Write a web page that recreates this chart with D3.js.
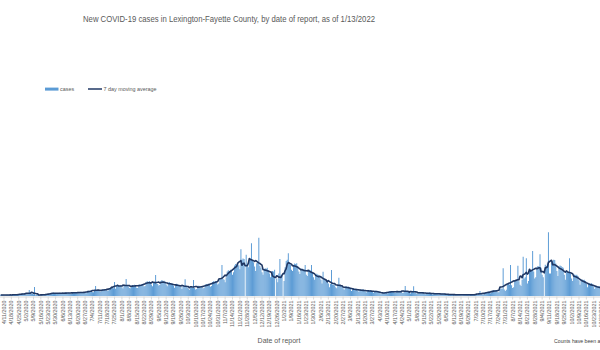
<!DOCTYPE html>
<html>
<head>
<meta charset="utf-8">
<script src="https://cdn.jsdelivr.net/npm/d3@7"></script>
<style>
  html, body { margin: 0; padding: 0; background: #fff; }
  svg { display: block; }
</style>
</head>
<body>
<svg id="chart" width="600" height="350"></svg>
<script>
// Daily new cases by date of report, one row per week (Sunday .. Saturday),
// starting Sunday 4/5/2020.
const firstDay = new Date(2020, 3, 5);
const cases = [
  6, 9, 7, 11, 8, 10, 6,
  5, 8, 10, 7, 9, 8, 9,
  7, 11, 9, 12, 10, 13, 8,
  10, 14, 18, 22, 16, 19, 13,
  12, 20, 48, 18, 22, 19, 14,
  72, 6, 9, 8, 11, 7, 5,
  6, 10, 14, 12, 15, 11, 9,
  14, 20, 25, 22, 27, 24, 18,
  15, 24, 22, 26, 21, 25, 17,
  16, 26, 28, 24, 27, 25, 20,
  18, 27, 30, 28, 25, 31, 22,
  20, 30, 33, 29, 31, 27, 24,
  22, 38, 42, 40, 37, 44, 31,
  30, 46, 80, 44, 41, 48, 36,
  34, 50, 55, 52, 49, 56, 41,
  44, 60, 68, 66, 70, 62, 112,
  58, 84, 90, 86, 82, 88, 70,
  60, 88, 84, 136, 80, 78, 64,
  62, 82, 88, 85, 90, 84, 66,
  64, 90, 92, 88, 96, 94, 76,
  80, 112, 118, 110, 120, 108, 92,
  78, 110, 114, 168, 100, 96, 84,
  88, 120, 128, 118, 122, 110, 92,
  78, 106, 112, 104, 100, 98, 84,
  66, 92, 98, 94, 90, 86, 72,
  56, 78, 82, 134, 72, 68, 60,
  50, 70, 74, 68, 128, 64, 52,
  56, 78, 82, 76, 80, 74, 60,
  64, 90, 96, 92, 98, 94, 74,
  80, 112, 118, 114, 120, 116, 92,
  100, 132, 140, 248, 136, 130, 110,
  150, 196, 206, 200, 210, 198, 170,
  190, 244, 256, 250, 262, 246, 214,
  374, 290, 300, 296, 0, 330, 250,
  230, 290, 300, 422, 280, 270, 236,
  200, 262, 270, 466, 240, 226, 190,
  170, 214, 222, 218, 226, 208, 180,
  150, 190, 200, 196, 210, 0, 140,
  110, 180, 296, 170, 160, 0, 120,
  230, 280, 290, 342, 270, 250, 210,
  200, 250, 260, 256, 262, 240, 196,
  176, 212, 220, 214, 210, 248, 170,
  160, 200, 210, 204, 248, 190, 150,
  130, 170, 178, 172, 166, 160, 130,
  100, 194, 140, 134, 130, 124, 100,
  70, 96, 208, 92, 90, 86, 70,
  62, 84, 146, 82, 80, 78, 62,
  50, 74, 78, 72, 76, 70, 56,
  40, 58, 62, 56, 60, 54, 44,
  34, 48, 52, 50, 54, 46, 38,
  28, 42, 46, 44, 48, 40, 32,
  26, 38, 42, 40, 38, 36, 28,
  14, 26, 28, 24, 30, 26, 20,
  24, 36, 40, 38, 36, 34, 28,
  26, 38, 40, 36, 42, 34, 26,
  24, 38, 80, 34, 36, 32, 24,
  20, 30, 34, 78, 28, 26, 20,
  18, 28, 30, 28, 32, 26, 20,
  14, 24, 26, 22, 28, 24, 16,
  12, 20, 22, 18, 24, 18, 14,
  10, 18, 20, 16, 20, 16, 12,
  8, 14, 14, 12, 16, 12, 8,
  6, 12, 12, 10, 14, 10, 7,
  6, 11, 13, 10, 12, 11, 7,
  7, 12, 12, 11, 13, 10, 8,
  8, 16, 18, 40, 16, 14, 10,
  16, 30, 32, 28, 34, 30, 22,
  28, 42, 46, 44, 48, 42, 30,
  30, 56, 60, 58, 222, 52, 40,
  50, 90, 96, 92, 248, 86, 64,
  70, 124, 130, 126, 242, 118, 90,
  80, 130, 314, 140, 150, 302, 100,
  120, 200, 210, 206, 360, 196, 140,
  150, 230, 240, 236, 334, 226, 170,
  150, 0, 250, 240, 260, 510, 180,
  180, 270, 280, 290, 288, 260, 200,
  160, 236, 244, 240, 232, 226, 170,
  130, 190, 196, 192, 302, 180, 140,
  120, 166, 172, 168, 170, 160, 126,
  90, 126, 132, 128, 130, 120, 96,
  70, 96, 100, 98, 102, 94, 76,
  56, 76, 80, 78, 80, 72, 60,
  44, 58, 62, 60, 64, 56, 46
];

const titleText = "New COVID-19 cases in Lexington-Fayette County, by date of report, as of 1/13/2022";
const seriesNames = ["cases", "7 day moving average"];
const axisTitle = "Date of report";
const footNote = "Counts have been adjusted for date of report";

const dates = cases.map((_, i) => d3.timeDay.offset(firstDay, i));
const labelFormat = d3.timeFormat("%-m/%-d/%Y");
// weekly category labels, on Saturdays
const tickDates = dates.filter(d => d.getDay() === 6);

// centred 7-day moving average
const movingAvg = cases.map((_, i) =>
  i < 3 || i > cases.length - 4 ? null : d3.mean(cases.slice(i - 3, i + 4)));

const svg = d3.select("#chart");
const barColor = "#5b9bd5";
const lineColor = "#203864";
const textColor = "#595959";

const dayWidth = 1.053;
const x0 = -2.84;
const x = d3.scaleBand()
  .domain(dates)
  .range([x0, x0 + cases.length * dayWidth])
  .paddingInner(0.07)
  .paddingOuter(0);

const y = d3.scaleLinear().domain([0, 1600]).range([296, 96]);

// title
svg.append("text")
  .attr("x", 229).attr("y", 21.5)
  .attr("text-anchor", "middle")
  .attr("font-family", "Liberation Sans, Arial, sans-serif")
  .attr("font-size", 8.6)
  .attr("textLength", 292)
  .attr("lengthAdjust", "spacingAndGlyphs")
  .attr("fill", textColor)
  .text(titleText);

// legend
const legend = svg.append("g")
  .attr("font-family", "Liberation Sans, Arial, sans-serif")
  .attr("font-size", 5.4)
  .attr("fill", textColor);
legend.append("rect").attr("x", 45).attr("y", 87.6).attr("width", 13.5).attr("height", 3).attr("fill", barColor);
legend.append("text").attr("x", 60).attr("y", 91).text(seriesNames[0]);
legend.append("line").attr("x1", 88).attr("x2", 102).attr("y1", 89).attr("y2", 89)
  .attr("stroke", lineColor).attr("stroke-width", 1.5);
legend.append("text").attr("x", 103.5).attr("y", 91).text(seriesNames[1]);

// bars
svg.append("g")
  .selectAll("rect")
  .data(cases)
  .join("rect")
  .attr("x", (d, i) => x(dates[i]))
  .attr("width", x.bandwidth())
  .attr("y", d => y(d))
  .attr("height", d => y(0) - y(d))
  .attr("fill", barColor);

// category axis
const axis = d3.axisBottom(x)
  .tickValues(tickDates)
  .tickFormat(labelFormat)
  .tickSize(3)
  .tickSizeOuter(0);
const gAxis = svg.append("g")
  .attr("transform", `translate(0,${y(0) + 0.5})`)
  .call(axis);
gAxis.select(".domain").attr("stroke", "#d9d9d9");
gAxis.selectAll(".tick line").attr("stroke", "#d9d9d9");
gAxis.selectAll(".tick text")
  .attr("font-family", "Liberation Sans, Arial, sans-serif")
  .attr("font-size", 5.4)
  .attr("fill", textColor)
  .attr("text-anchor", "end")
  .attr("dy", "0.35em")
  .attr("transform", "translate(0,4) rotate(-90)")
  .attr("x", 0).attr("y", 0);

// moving average line
const line = d3.line()
  .defined(d => d.v !== null)
  .x(d => x(d.date) + x.bandwidth() / 2)
  .y(d => y(d.v))
  .curve(d3.curveLinear);
svg.append("path")
  .datum(dates.map((d, i) => ({ date: d, v: movingAvg[i] })))
  .attr("fill", "none")
  .attr("stroke", lineColor)
  .attr("stroke-width", 1.6)
  .attr("stroke-linejoin", "round")
  .attr("d", line);

// axis title and note
svg.append("text")
  .attr("x", 279).attr("y", 343)
  .attr("text-anchor", "middle")
  .attr("font-family", "Liberation Sans, Arial, sans-serif")
  .attr("font-size", 7)
  .attr("fill", textColor)
  .text(axisTitle);
svg.append("text")
  .attr("x", 554).attr("y", 343)
  .attr("font-family", "Liberation Sans, Arial, sans-serif")
  .attr("font-size", 5.2)
  .attr("fill", "#404040")
  .text(footNote);
</script>
</body>
</html>
